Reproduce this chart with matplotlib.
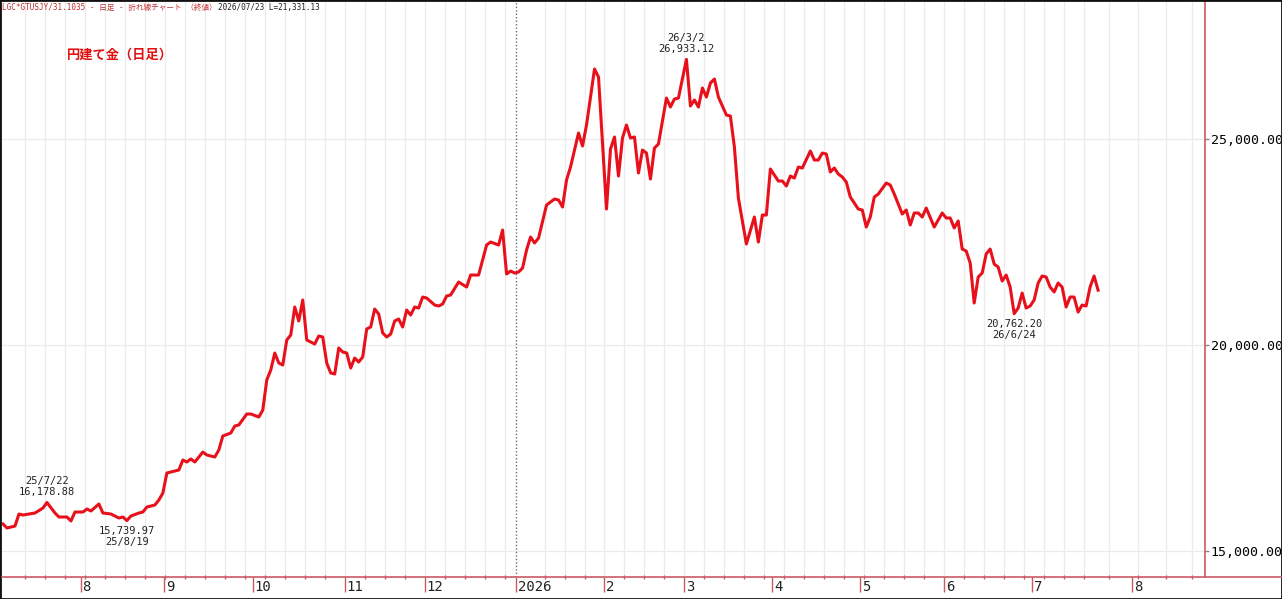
import numpy as np
import matplotlib
matplotlib.use('Agg')
import matplotlib.pyplot as plt
from matplotlib.lines import Line2D
from matplotlib.patches import Rectangle

# trading-day index (bar number) and closing price, yen per gram
days = [0, 1, 3, 4, 5, 8, 10, 11, 13, 14, 16, 17, 18, 20, 21, 22, 24, 25, 27, 29,
        30, 31, 32, 34, 35, 36, 38, 39, 40, 41, 43, 44, 45, 46, 47, 48, 50, 51, 53, 54,
        55, 57, 58, 59, 61, 62, 64, 65, 66, 67, 68, 69, 70, 71, 72, 73, 74, 75, 76, 78,
        79, 80, 81, 82, 83, 84, 85, 86, 87, 88, 89, 90, 91, 92, 93, 94, 95, 96, 97, 98,
        99, 100, 101, 102, 103, 104, 105, 106, 108, 109, 110, 111, 112, 114, 116, 117, 119, 121, 122, 124,
        125, 126, 127, 128, 129, 130, 131, 132, 133, 134, 136, 138, 139, 140, 141, 142, 144, 145, 146, 148,
        149, 151, 152, 153, 154, 155, 156, 157, 158, 159, 160, 161, 162, 163, 164, 166, 167, 168, 169, 171,
        172, 173, 174, 175, 176, 177, 178, 179, 181, 182, 183, 184, 186, 188, 189, 190, 191, 192, 194, 195,
        196, 197, 198, 199, 200, 202, 203, 204, 205, 206, 207, 208, 209, 210, 211, 212, 213, 214, 215, 216,
        217, 218, 219, 221, 222, 223, 225, 226, 227, 228, 229, 230, 231, 233, 235, 236, 237, 238, 239, 240,
        241, 242, 243, 244, 245, 246, 247, 248, 249, 250, 251, 252, 253, 254, 255, 256, 257, 258, 259, 260,
        261, 262, 263, 264, 265, 266, 267, 268, 269, 270, 271, 272, 273, 274]
close = [15656, 15559, 15607, 15899, 15874, 15923, 16044, 16179, 15923, 15826, 15826, 15729, 15947, 15947, 16020, 15972, 16141, 15923, 15899, 15802,
         15826, 15740, 15850, 15923, 15947, 16069, 16117, 16239, 16408, 16894, 16942, 16967, 17209, 17161, 17234, 17161, 17403, 17331, 17282, 17452,
         17792, 17865, 18035, 18059, 18326, 18326, 18253, 18423, 19151, 19394, 19806, 19564, 19515, 20122, 20243, 20923, 20583, 21093, 20122, 20025,
         20219, 20195, 19564, 19321, 19297, 19928, 19830, 19806, 19442, 19685, 19588, 19709, 20389, 20437, 20874, 20753, 20292, 20195, 20267, 20583,
         20631, 20437, 20850, 20728, 20923, 20898, 21165, 21141, 20971, 20947, 20995, 21190, 21214, 21529, 21408, 21699, 21699, 22427, 22500, 22427,
         22791, 21724, 21796, 21748, 21772, 21869, 22306, 22622, 22476, 22597, 23398, 23544, 23520, 23350, 24005, 24320, 25146, 24830, 25340, 26699,
         26505, 23301, 24757, 25049, 24102, 25024, 25340, 25024, 25049, 24175, 24733, 24660, 24029, 24782, 24879, 25995, 25777, 25971, 25995, 26933,
         25801, 25947, 25777, 26238, 26019, 26359, 26456, 26019, 25582, 25558, 24806, 23568, 22452, 23107, 22500, 23155, 23155, 24272, 23981, 23981,
         23859, 24102, 24053, 24320, 24296, 24709, 24490, 24490, 24660, 24636, 24199, 24296, 24151, 24078, 23956, 23592, 23447, 23301, 23277, 22864,
         23107, 23592, 23665, 23932, 23884, 23665, 23180, 23277, 22913, 23204, 23204, 23107, 23325, 22864, 23204, 23083, 23083, 22840, 23010, 22330,
         22282, 21991, 21020, 21651, 21748, 22209, 22330, 21966, 21893, 21554, 21699, 21408, 20762, 20898, 21262, 20898, 20947, 21093, 21505, 21675,
         21651, 21408, 21287, 21505, 21408, 20923, 21165, 21165, 20800, 20971, 20947, 21408, 21675, 21331]

month_labels = ['8', '9', '10', '11', '12', '2026', '2', '3', '4', '5', '6', '7', '8']
month_pos = [19.4, 40.25, 62.5, 85.5, 105.5, 128.4, 150.5, 170.5, 192.5, 214.5, 235.5, 257.5, 282.5]
y_ticks = [15000, 20000, 25000]

# marked highs / lows: (bar, price, label, above?)
marks = [(11, 16179, '25/7/22\n16,178.88', True),
         (31, 15740, '15,739.97\n25/8/19', False),
         (171, 26933, '26/3/2\n26,933.12', True),
         (253, 20762, '20,762.20\n26/6/24', False)]

axis_col = '#cc5a64'
line_col = '#e8101a'
grid_col = '#ebebeb'
mono = 'DejaVu Sans Mono'

W, H = 1282, 599
fig = plt.figure(figsize=(W / 100, H / 100), dpi=100)
ax = fig.add_axes([2 / W, 22 / H, 1203 / W, 577 / H])

ax.set_xlim(-0.25, 300.75)
ax.set_ylim(14370, 28374)

# weekly grid (holiday week around new year has no line)
weeks = [w for w in np.arange(5.5, 275, 5) if w != 130.5] + [276.75, 284, 291, 297.5]
for w in weeks:
    ax.axvline(w, color=grid_col, lw=0.9, zorder=0)
for v in y_ticks:
    ax.axhline(v, color=grid_col, lw=0.9, zorder=0)
ax.axvline(128.4, color='#6a6a88', lw=1.0, ls=(0, (1, 1.5)), zorder=1)

ax.plot(days, close, color=line_col, lw=2.2, zorder=3)

for d, p, txt, up in marks:
    ax.annotate(txt, xy=(d, p), xytext=(0, 5 if up else -5), textcoords='offset pixels',
                ha='center', va='bottom' if up else 'top', fontsize=7.5,
                family=mono, color='#222222', linespacing=1.15)

# axes styling
for s in ['top', 'left', 'bottom']:
    ax.spines[s].set_visible(False)
ax.spines['right'].set_color(axis_col)
ax.spines['right'].set_linewidth(1.2)
ax.yaxis.tick_right()
ax.set_yticks(y_ticks)
ax.set_yticklabels([f'{v:,.2f}' for v in y_ticks], family=mono, fontsize=9.5)
ax.tick_params(axis='y', length=3, width=1, color='#888888', pad=1)

ax.set_xticks(month_pos)
ax.set_xticklabels([])
ax.tick_params(axis='x', which='major', length=11, width=1, color=axis_col, direction='out')
ax.set_xticks(weeks, minor=True)
ax.tick_params(axis='x', which='minor', length=2.5, width=1, color=axis_col, direction='inout')
for pos, lab in zip(month_pos, month_labels):
    ax.text(pos + 0.5, -0.006, lab, transform=ax.get_xaxis_transform(), ha='left', va='top',
            family=mono, fontsize=10, color='#222222')

# bottom axis line runs to the right edge
fig.add_artist(Line2D([2 / W, 1], [22 / H, 22 / H], transform=fig.transFigure,
                      color=axis_col, lw=1.2))

# header and title
fig.text(2 / W, 1 - 7.5 / H, 'LGC*GTUSJY/31.1035 - 日足 - 折れ線チャート （終値）',
         family=[mono, 'Noto Sans CJK JP'], fontsize=5.5, color='#c03030', va='center', ha='left')
fig.text(218 / W, 1 - 7.5 / H, '2026/07/23 L=21,331.13',
         family=[mono, 'Noto Sans CJK JP'], fontsize=5.5, color='#222222', va='center', ha='left')
fig.text(67 / W, 1 - 55 / H, '円建て金（日足）', family='Noto Sans CJK JP', fontweight='bold',
         fontsize=9.5, color='#e01010', va='center', ha='left')

fig.patches.append(Rectangle((0, 0), 1, 1, transform=fig.transFigure, fill=False,
                             ec='#111111', lw=2))

fig.savefig('out.png', dpi=100)
